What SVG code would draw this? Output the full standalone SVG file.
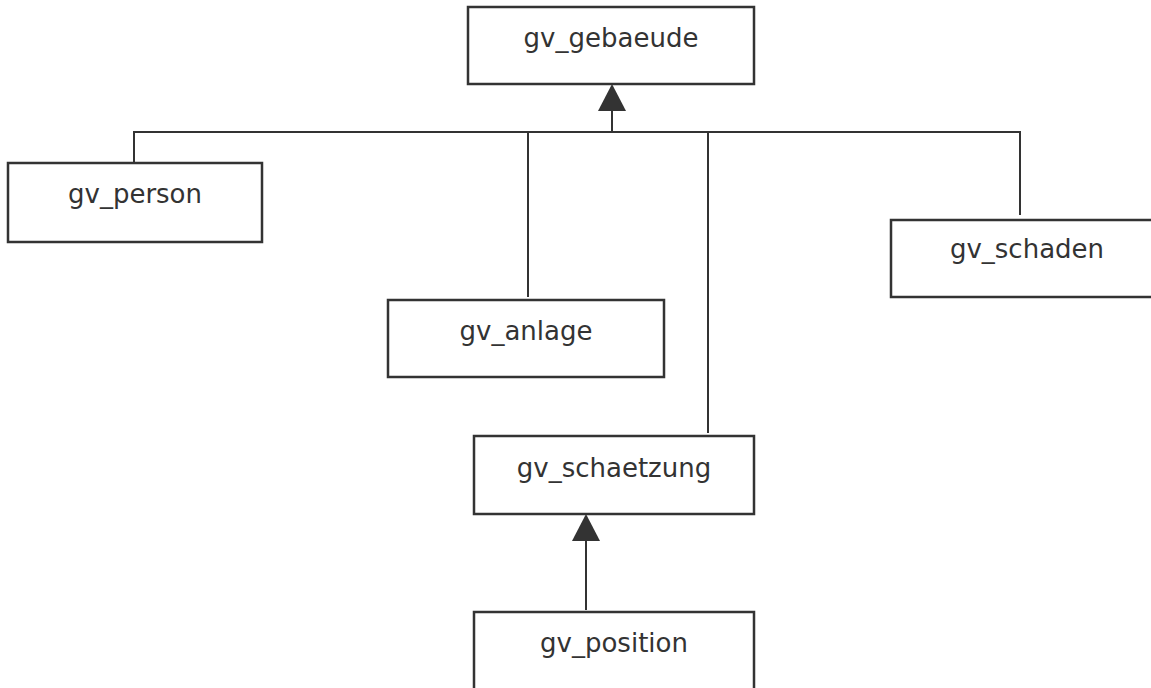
<svg xmlns="http://www.w3.org/2000/svg" width="1151" height="688" viewBox="0 0 1151 688">
<style>
.box{fill:#fff;stroke:#333;stroke-width:2.5}
.lbl{font-family:"DejaVu Sans",Verdana,sans-serif;font-size:26px;fill:#333;text-anchor:middle}
.ln{fill:none;stroke:#333;stroke-width:2}
.head{fill:#333}
</style>
<rect width="1151" height="688" fill="#fff"/>
<g id="connectors">
<path class="ln" d="M134 163 V132 H1020 V215"/>
<path class="ln" d="M528 132 V297"/>
<path class="ln" d="M708 132 V433"/>
<path class="ln" d="M612 132 V110"/>
<path class="head" d="M612 84 L626 111 L598 111 Z"/>
<path class="ln" d="M586 610 V540"/>
<path class="head" d="M586 514 L600 541 L572 541 Z"/>
</g>
<g id="gv_gebaeude"><rect class="box" x="468" y="7" width="286" height="77"/><text class="lbl" x="611" y="46.5">gv_gebaeude</text></g>
<g id="gv_person"><rect class="box" x="8" y="163" width="254" height="79"/><text class="lbl" x="135" y="203">gv_person</text></g>
<g id="gv_anlage"><rect class="box" x="388" y="300" width="276" height="77"/><text class="lbl" x="526" y="339.5">gv_anlage</text></g>
<g id="gv_schaden"><rect class="box" x="891" y="220" width="280" height="77"/><text class="lbl" x="1027" y="258">gv_schaden</text></g>
<g id="gv_schaetzung"><rect class="box" x="474" y="436" width="280" height="78"/><text class="lbl" x="614" y="477">gv_schaetzung</text></g>
<g id="gv_position"><rect class="box" x="474" y="612" width="280" height="90"/><text class="lbl" x="614" y="652">gv_position</text></g>
</svg>
